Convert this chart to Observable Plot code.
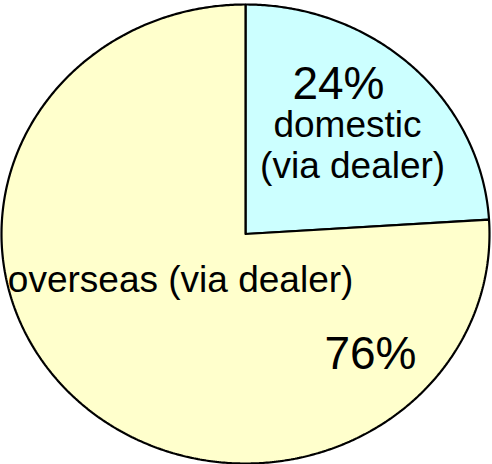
<!DOCTYPE html>
<html>
<head>
<meta charset="utf-8">
<script src="https://cdn.jsdelivr.net/npm/d3@7"></script>
<script src="https://cdn.jsdelivr.net/npm/@observablehq/plot@0.6"></script>
<style>
  html, body { margin: 0; padding: 0; background: #fff; }
  svg { display: block; }
</style>
</head>
<body>
<div id="chart"></div>
<script>
// ---- data ----
const categories = ["domestic (via dealer)", "overseas (via dealer)"];
const shares = [24, 76];
const percentLabels = ["24%", "76%"];

// ---- layout / style (kept separate from data) ----
const sliceColors = ["#ccffff", "#ffffcc"];
// label anchors in the pie's unit coordinates (x right, y up), baseline-anchored
const labelLayout = [
  {text: percentLabels[0], x: 0.381, y: 0.590, size: 46},
  {text: "domestic", x: 0.418, y: 0.422, size: 37},
  {text: "(via dealer)", x: 0.439, y: 0.242, size: 37},
  {text: "overseas (via dealer)", x: -0.266, y: -0.254, size: 37},
  {text: percentLabels[1], x: 0.512, y: -0.590, size: 46}
];

// build slice outlines from the data with d3.pie (clockwise from 12 o'clock)
const pie = d3.pie().sort(null).value(d => d.value).startAngle(0).endAngle(2 * Math.PI);
const arcs = pie(categories.map((c, i) => ({name: c, value: shares[i]})));
const slices = arcs.map((a, i) => {
  const pts = [{x: 0, y: 0}];
  const n = Math.max(2, Math.ceil((a.endAngle - a.startAngle) / (Math.PI / 360)));
  for (let k = 0; k <= n; k++) {
    const t = a.startAngle + (a.endAngle - a.startAngle) * k / n;
    pts.push({x: Math.sin(t), y: Math.cos(t)});
  }
  pts.push({x: 0, y: 0});
  return {name: a.data.name, color: sliceColors[i], pts};
});

const chart = Plot.plot({
  width: 492,
  height: 464,
  margin: 0,
  style: {fontFamily: "'Liberation Sans', Arial, sans-serif", background: "#fff"},
  x: {domain: [-1, 1], range: [1, 489], axis: null},
  y: {domain: [-1, 1], range: [463, 4], axis: null},
  marks: [
    ...slices.map(s => Plot.line(s.pts, {
      x: "x", y: "y", curve: "linear",
      fill: s.color, stroke: "black", strokeWidth: 2.2,
      strokeLinejoin: "miter"
    })),
    ...labelLayout.map(l => Plot.text([l], {
      x: "x", y: "y", text: "text",
      fontSize: l.size, fill: "black", textAnchor: "middle", lineAnchor: "bottom"
    }))
  ]
});
document.getElementById("chart").appendChild(chart);
</script>
</body>
</html>
